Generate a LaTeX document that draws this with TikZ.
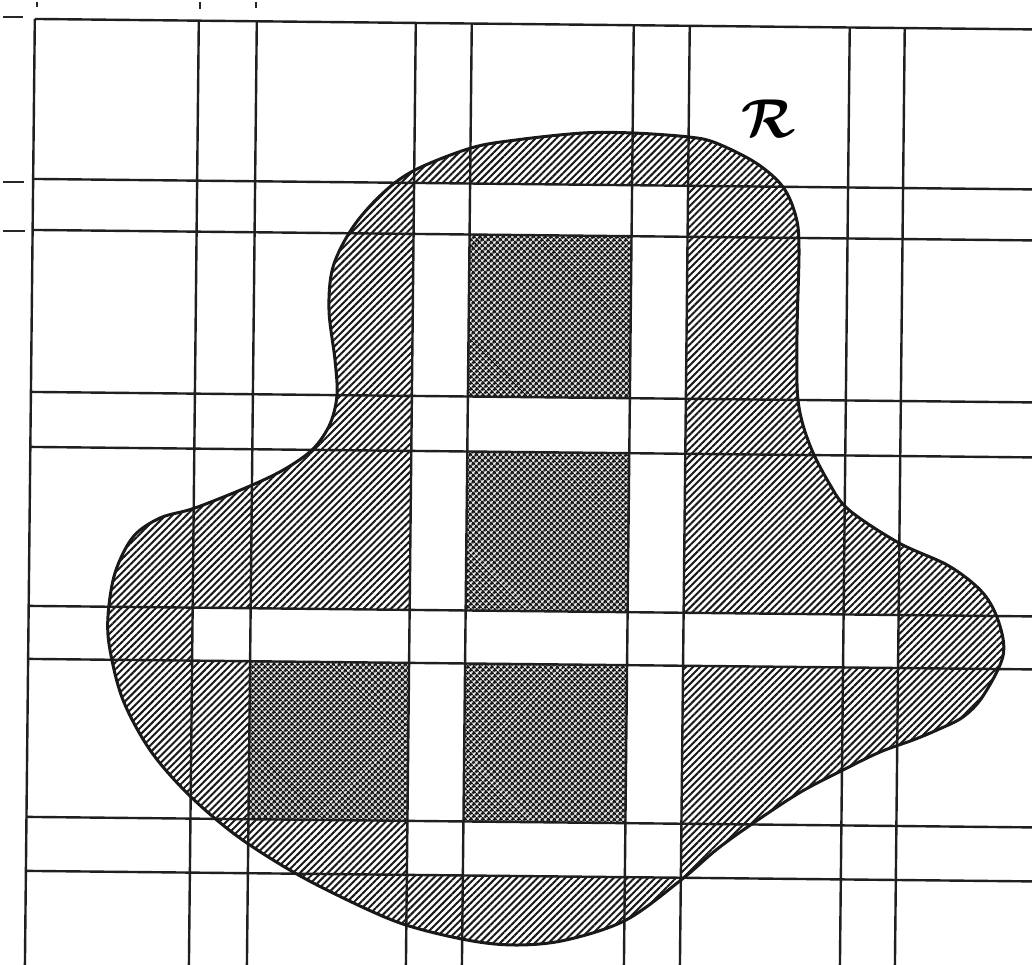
\documentclass[tikz,border=0pt]{standalone}
\usepackage{amsmath,amssymb,bm}
\usetikzlibrary{patterns.meta}
\tikzset{
  gridline/.style={line width=2.4pt,draw=black!88},
  tickline/.style={line width=2.4pt,draw=black!85},
  hatchfill/.style={pattern={Lines[angle=45,distance=4.9pt,line width=2.0pt]},pattern color=black!90},
  crossfill/.style={pattern={Hatch[angle=45,distance=4.0pt,line width=2.1pt]},pattern color=black!90},
  border/.style={line width=3pt,draw=black!90,line join=round},
}
\begin{document}
\begin{tikzpicture}[x=1pt,y=-1pt]
\useasboundingbox (0,0) rectangle (1032,965);
\clip (0,0) rectangle (1032,965);
\fill[white] (0,0) rectangle (1032,965);
% region R : hatched
\def\Rpath{plot[smooth cycle,tension=0.55] coordinates {
 (415,170) (471,148) (516,140) (583,133) (633,133) (689,137) (716,143) (756,163)
 (783,187) (796,217) (799,250) (797,333) (798,400) (809,443) (829,483) (849,510)
 (899,543) (949,566) (983,593) (999,623) (1003,656) (983,696) (963,717) (937,730)
 (913,740) (880,752) (843,770) (799,793) (749,826) (716,850) (681,880) (626,920)
 (566,940) (516,945) (467,940) (400,923) (333,893) (283,866) (233,833) (187,793)
 (150,750) (123,700) (110,650) (108,616) (115,573) (133,537) (160,518) (195,508)
 (250,486) (285,469) (313,449) (330,424) (337,395) (335,360) (329,310)
 (333,267) (353,227) (383,193)}}
\fill[hatchfill] \Rpath;
\begin{scope}[rotate around={-0.6:(516,480)}]
  % white strips
  \fill[white] (411,184) rectangle (467,876);
  \fill[white] (629,184) rectangle (685,876);
  \fill[white] (467,184) rectangle (629,235);
  \fill[white] (467,397) rectangle (629,452);
  \fill[white] (467,822) rectangle (629,876);
  \fill[white] (194,611) rectangle (900,664);
  % inner rectangles : cross-hatched
  \foreach \a/\b/\c/\d in {467/235/629/397,467/452/629/611,467/664/629/822,252/664/411/822}{
    \fill[white] (\a,\b) rectangle (\c,\d);
    \fill[crossfill] (\a,\b) rectangle (\c,\d);
  }
  % grid
  \foreach \x in {30,194,252,411,467,629,685,845,900}
    \draw[gridline] (\x,24) -- (\x,1010);
  \foreach \y in {24,184,235,397,452,611,664,822,876}
    \draw[gridline] (30,\y) -- (1080,\y);
\end{scope}
% ticks at the margin
\draw[tickline] (37,2) -- (37,7);
\draw[tickline] (200,2) -- (200,9);
\draw[tickline] (256,2) -- (256,8);
\draw[tickline] (3,17) -- (23,17);
\draw[tickline] (3,182) -- (24,182);
\draw[tickline] (3,231) -- (25,231);
% boundary
\draw[border] \Rpath;
\node[inner sep=0pt,scale=2.2,font=\fontsize{24.88}{30}\selectfont] (Rlabel) at (769,119) {$\bm{\mathcal{R}}$};
\end{tikzpicture}
\end{document}
